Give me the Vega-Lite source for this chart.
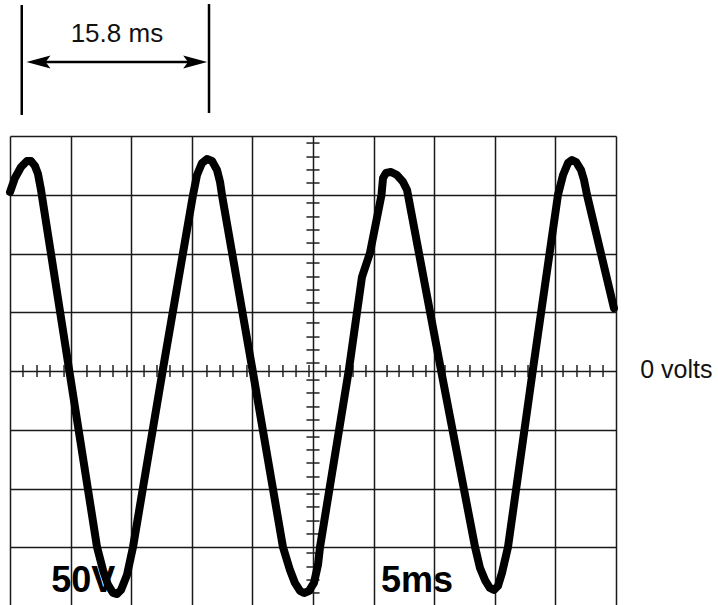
{
  "$schema": "https://vega.github.io/schema/vega-lite/v6.json",
  "width": 606,
  "height": 470,
  "autosize": "none",
  "padding": {"left": 10, "top": 136, "right": 102, "bottom": 0},
  "background": "white",
  "config": {
    "view": {"stroke": null},
    "axis": {"grid": true, "gridColor": "#1a1a1a", "gridWidth": 1.5, "gridOpacity": 1, "labels": false, "ticks": false, "domain": false},
    "axisX": {"tickCount": 10},
    "axisY": {"tickCount": 8}
  },
  "datasets": {
    "wave": [
      {"t":0,"v":152.3},{"t":0.41,"v":164.3},{"t":0.91,"v":173.6},{"t":1.40,"v":178.7},{"t":1.73,"v":178.7},
      {"t":2.06,"v":174.5},{"t":2.31,"v":167.7},{"t":2.56,"v":154.0},{"t":4.87,"v":1.7},{"t":7.18,"v":-149.8},
      {"t":7.67,"v":-169.4},{"t":8.09,"v":-182.1},{"t":8.50,"v":-188.9},{"t":8.83,"v":-189.8},{"t":9.16,"v":-186.4},
      {"t":9.65,"v":-173.6},{"t":10.15,"v":-149.8},{"t":12.62,"v":1.7},{"t":15.10,"v":149.8},{"t":15.43,"v":166.8},
      {"t":15.84,"v":177.0},{"t":16.25,"v":180.4},{"t":16.67,"v":178.7},{"t":17.08,"v":171.1},{"t":17.33,"v":160.9},
      {"t":17.49,"v":149.8},{"t":20.01,"v":0.85},{"t":22.52,"v":-149.8},{"t":23.10,"v":-169.4},{"t":23.51,"v":-180.4},
      {"t":23.93,"v":-187.2},{"t":24.26,"v":-188.9},{"t":24.67,"v":-187.2},{"t":25.08,"v":-180.4},{"t":25.41,"v":-165.1},
      {"t":25.58,"v":-149.8},{"t":27.97,"v":1.7},{"t":29.04,"v":80.0},{"t":29.70,"v":100.4},{"t":30.65,"v":149.8},
      {"t":30.78,"v":164.3},{"t":31.02,"v":168.5},{"t":31.44,"v":169.4},{"t":31.93,"v":166.8},{"t":32.43,"v":160.9},
      {"t":32.76,"v":154.0},{"t":35.56,"v":0.85},{"t":38.37,"v":-149.8},{"t":38.78,"v":-167.7},{"t":39.19,"v":-177.9},
      {"t":39.60,"v":-184.7},{"t":39.93,"v":-186.4},{"t":40.26,"v":-183.0},{"t":40.59,"v":-171.9},{"t":41.09,"v":-149.8},
      {"t":43.15,"v":1.7},{"t":45.21,"v":149.8},{"t":45.63,"v":166.8},{"t":46.04,"v":177.0},{"t":46.37,"v":179.6},
      {"t":46.70,"v":177.9},{"t":47.11,"v":171.1},{"t":47.36,"v":162.6},{"t":47.61,"v":149.8},{"t":49.83,"v":53.6}
    ],
    "hticks": [
      {"t":1.07},{"t":2.23},{"t":3.30},{"t":4.46},
      {"t":6.35},{"t":7.43},{"t":8.50},{"t":9.65},
      {"t":11.06},{"t":12.13},{"t":13.20},{"t":14.27},
      {"t":16.25},{"t":17.33},{"t":18.40},{"t":19.55},
      {"t":21.37},{"t":22.52},{"t":23.60},{"t":24.67},
      {"t":26.07},{"t":27.23},{"t":28.30},{"t":29.37},
      {"t":31.11},{"t":32.10},{"t":33.25},{"t":34.32},
      {"t":35.89},{"t":36.96},{"t":37.95},{"t":39.03},
      {"t":40.59},{"t":41.67},{"t":42.74},{"t":43.89},
      {"t":45.63},{"t":46.78},{"t":47.85},{"t":48.93}
    ],
    "vticks": [
      {"v":194.0},{"v":182.1},{"v":171.1},{"v":160.0},
      {"v":143.0},{"v":131.1},{"v":120.0},{"v":108.9},
      {"v":91.9},{"v":80.0},{"v":68.9},{"v":57.9},
      {"v":40.9},{"v":28.9},{"v":17.9},{"v":6.8},
      {"v":-7.7},{"v":-18.7},{"v":-30.6},{"v":-41.7},
      {"v":-56.2},{"v":-67.2},{"v":-78.3},{"v":-90.2},
      {"v":-104.7},{"v":-115.7},{"v":-127.7},{"v":-138.7},
      {"v":-154.9},{"v":-166.8},{"v":-177.9},{"v":-188.9}
    ],
    "markers": [
      {"t":0.97,"v1":311.5,"v2":217.9},
      {"t":16.42,"v1":312.3,"v2":219.6}
    ],
    "arrow": [{"t1":2.35,"t2":15.28,"v":263.0}],
    "heads": [
      {"t":2.35,"v":263.0,"dir":"left"},
      {"t":15.28,"v":263.0,"dir":"right"}
    ],
    "period": [{"label":"15.8 ms","t":8.82,"v":279.7}],
    "zero": [{"label":"0 volts","t":52.0,"v":-6.2}],
    "scope": [
      {"label":"50V","t":3.40,"v":-188.1},
      {"label":"5ms","t":30.61,"v":-188.1}
    ]
  },
  "layer": [
    {
      "data": {"name": "hticks"},
      "mark": {"type": "rule", "color": "#222", "strokeWidth": 1.5},
      "encoding": {
        "x": {"field": "t", "type": "quantitative", "title": null, "scale": {"domain": [0, 50], "nice": false, "zero": false}},
        "y": {"datum": -5.1, "scale": {"domain": [-200, 200], "nice": false, "zero": false}},
        "y2": {"datum": 5.1}
      }
    },
    {
      "data": {"name": "vticks"},
      "mark": {"type": "rule", "color": "#222", "strokeWidth": 1.5},
      "encoding": {
        "y": {"field": "v", "type": "quantitative", "title": null},
        "x": {"datum": 24.46},
        "x2": {"datum": 25.54}
      }
    },
    {
      "data": {"name": "wave"},
      "mark": {"type": "line", "color": "black", "strokeWidth": 8, "strokeCap": "round", "strokeJoin": "round", "interpolate": "linear"},
      "encoding": {
        "x": {"field": "t", "type": "quantitative", "title": null},
        "y": {"field": "v", "type": "quantitative", "title": null}
      }
    },
    {
      "data": {"name": "markers"},
      "mark": {"type": "rule", "color": "black", "strokeWidth": 2.5},
      "encoding": {
        "x": {"field": "t", "type": "quantitative", "title": null},
        "y": {"field": "v1", "type": "quantitative", "title": null},
        "y2": {"field": "v2"}
      }
    },
    {
      "data": {"name": "arrow"},
      "mark": {"type": "rule", "color": "black", "strokeWidth": 2.5},
      "encoding": {
        "x": {"field": "t1", "type": "quantitative", "title": null},
        "x2": {"field": "t2"},
        "y": {"field": "v", "type": "quantitative", "title": null}
      }
    },
    {
      "data": {"name": "heads"},
      "mark": {"type": "point", "filled": true, "color": "black", "opacity": 1, "size": 576, "strokeWidth": 0},
      "encoding": {
        "x": {"field": "t", "type": "quantitative", "title": null},
        "y": {"field": "v", "type": "quantitative", "title": null},
        "shape": {"field": "dir", "type": "nominal", "legend": null,
          "scale": {"domain": ["left", "right"], "range": ["M-1,0L1,-0.55L0.6,0L1,0.55Z", "M1,0L-1,-0.55L-0.6,0L-1,0.55Z"]}}
      }
    },
    {
      "data": {"name": "period"},
      "mark": {"type": "text", "font": "Liberation Sans", "fontSize": 26, "color": "#111", "align": "center", "baseline": "alphabetic"},
      "encoding": {
        "x": {"field": "t", "type": "quantitative", "title": null},
        "y": {"field": "v", "type": "quantitative", "title": null},
        "text": {"field": "label"}
      }
    },
    {
      "data": {"name": "zero"},
      "mark": {"type": "text", "font": "Liberation Sans", "fontSize": 25, "color": "#111", "align": "left", "baseline": "alphabetic"},
      "encoding": {
        "x": {"field": "t", "type": "quantitative", "title": null},
        "y": {"field": "v", "type": "quantitative", "title": null},
        "text": {"field": "label"}
      }
    },
    {
      "data": {"name": "scope"},
      "mark": {"type": "text", "font": "Liberation Sans", "fontSize": 36, "fontWeight": "bold", "color": "black", "align": "left", "baseline": "alphabetic"},
      "encoding": {
        "x": {"field": "t", "type": "quantitative", "title": null},
        "y": {"field": "v", "type": "quantitative", "title": null},
        "text": {"field": "label"}
      }
    }
  ]
}
